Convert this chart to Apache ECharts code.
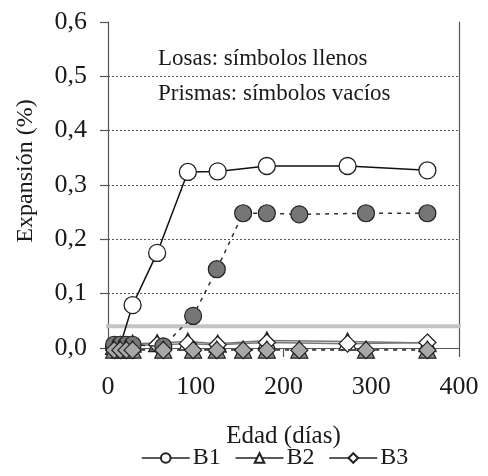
<!DOCTYPE html>
<html><head><meta charset="utf-8">
<script src="https://cdn.jsdelivr.net/npm/echarts@6/dist/echarts.min.js"></script>
<style>html,body{margin:0;padding:0;background:#fff}#c{width:488px;height:476px}</style>
</head><body><div id="c"></div>
<script>
// ---- data ----
const xTicks = [0, 100, 200, 300, 400];
const yTicks = [0, 0.1, 0.2, 0.3, 0.4, 0.5, 0.6];
const limitValue = 0.04;
const limitSpan = [-12, 412];
const legendNames = ['B1', 'B2', 'B3'];
// prisms (open symbols)
const prismDays = [7, 14, 28, 56, 91, 125, 181, 273, 364];
const b1Prism = [0.002, 0.005, 0.079, 0.175, 0.324, 0.325, 0.335, 0.335, 0.327];
const b2Prism = [0.004, 0.005, 0.008, 0.009, 0.012, 0.008, 0.014, 0.012, 0.009];
const b3Prism = [0.003, 0.004, 0.005, 0.006, 0.008, 0.006, 0.010, 0.008, 0.010];
// slabs (filled symbols)
const slabDays = [7, 14, 21, 28, 63, 97, 124, 154, 181, 218, 294, 364];
const b1Slab = [0.006, 0.006, 0.006, 0.006, 0.003, 0.059, 0.145, 0.248, 0.248, 0.246, 0.248, 0.248];
const b2Slab = [-0.003, -0.003, -0.003, -0.003, -0.003, -0.003, -0.003, -0.003, -0.003, -0.003, -0.003, -0.003];
const b3Slab = [-0.004, -0.004, -0.004, -0.004, -0.004, -0.004, -0.004, -0.004, -0.004, -0.004, -0.004, -0.004];

const FONT = 'Liberation Serif';
const TXT = '#1a1a1a';
const AX = '#555';
const pairs = (xs, ys) => xs.map((x, i) => [x, ys[i]]);

const openStyle = { color: '#fff', borderColor: '#222', borderWidth: 1.3 };
function mk(name, xs, ys, symbol, item, line, z) {
  return {
    name, type: 'line', data: pairs(xs, ys), symbol, symbolSize: 17,
    itemStyle: item, lineStyle: line, clip: false, z, animation: false
  };
}

const series = [
  {
    name: 'limite', type: 'line', z: 2, clip: false, animation: false, silent: true,
    symbol: 'none', data: limitSpan.map(x => [x, limitValue]),
    lineStyle: { color: '#c4c4c4', width: 4 }
  },
  mk('B1', prismDays, b1Prism, 'circle', openStyle, { color: '#111', width: 1.5 }, 3),
  mk('B2', prismDays, b2Prism, 'triangle', openStyle, { color: '#777', width: 1.5 }, 3),
  mk('B3', prismDays, b3Prism, 'diamond', openStyle, { color: '#777', width: 1.5 }, 3),
  mk('B1 losas', slabDays, b1Slab, 'circle', { color: '#767676', borderColor: '#222', borderWidth: 1.2 }, { color: '#333', width: 1.5, type: [4, 5] }, 4),
  mk('B2 losas', slabDays, b2Slab, 'triangle', { color: '#8a8a8a', borderColor: '#222', borderWidth: 1.2 }, { color: '#444', width: 1.3, type: [4, 5] }, 4),
  mk('B3 losas', slabDays, b3Slab, 'diamond', { color: '#a8a8a8', borderColor: '#222', borderWidth: 1.2 }, { color: '#444', width: 1.3, type: [4, 5] }, 5)
];

const legendLine = { color: '#222', width: 1.5 };
const chart = echarts.init(document.getElementById('c'));
chart.setOption({
  animation: false,
  backgroundColor: '#fff',
  title: {
    text: 'Losas: símbolos llenos\nPrismas: símbolos vacíos',
    left: 153, top: 36,
    textStyle: { fontFamily: FONT, fontSize: 23, fontWeight: 'normal', color: TXT, lineHeight: 35 }
  },
  grid: { left: 108, right: 29, top: 22, bottom: 128, containLabel: false },
  legend: {
    data: legendNames.map(n => ({ name: n, lineStyle: legendLine })),
    bottom: 1, left: 136, itemWidth: 48, itemHeight: 12, itemGap: 14,
    textStyle: { fontFamily: FONT, fontSize: 24, color: TXT, padding: [0, 0, 0, -2] }
  },
  xAxis: {
    type: 'value', min: xTicks[0], max: xTicks[xTicks.length - 1], interval: 100,
    name: 'Edad (días)', nameLocation: 'middle', nameGap: 76,
    nameTextStyle: { fontFamily: FONT, fontSize: 25, color: TXT },
    axisLine: { show: true, lineStyle: { color: AX, width: 1.2 } },
    axisTick: { show: true, length: 9, inside: false, lineStyle: { color: AX, width: 1.2 } },
    axisLabel: { fontFamily: FONT, fontSize: 26, color: TXT, margin: 26 },
    splitLine: { show: false }
  },
  yAxis: [{
    type: 'value', min: yTicks[0], max: yTicks[yTicks.length - 1], interval: 0.1,
    name: 'Expansión (%)', nameLocation: 'middle', nameGap: 70,
    nameTextStyle: { fontFamily: FONT, fontSize: 24, color: TXT, padding: [0, 0, 0, 28] },
    axisLine: { show: true, lineStyle: { color: AX, width: 1.2 } },
    axisTick: { show: true, length: 8, inside: false, lineStyle: { color: AX, width: 1.2 } },
    axisLabel: { fontFamily: FONT, fontSize: 26, color: TXT, margin: 21,
      formatter: v => v.toFixed(1).replace('.', ',') },
    splitLine: { show: true, showMinLine: false, showMaxLine: false,
      lineStyle: { color: '#555', width: 1, type: [2, 2] } }
  }, {
    type: 'value', position: 'right', min: yTicks[0], max: yTicks[yTicks.length - 1], interval: 0.1,
    axisLine: { show: true, lineStyle: { color: AX, width: 1.2 } },
    axisTick: { show: false }, axisLabel: { show: false }, splitLine: { show: false }
  }],
  series
});
</script></body></html>
